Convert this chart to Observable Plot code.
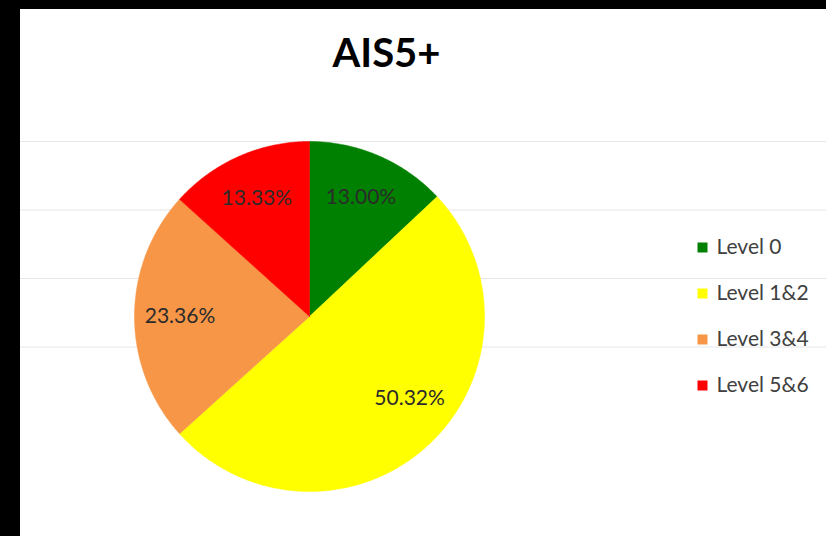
<!DOCTYPE html>
<html>
<head>
<meta charset="utf-8">
<script src="https://cdn.jsdelivr.net/npm/d3@7"></script>
<script src="https://cdn.jsdelivr.net/npm/@observablehq/plot@0.6"></script>
<style>
  html, body { margin: 0; padding: 0; background: #000; width: 826px; height: 536px; overflow: hidden; }
  #frame { position: absolute; left: 20px; top: 9px; width: 806px; height: 527px; background: #fff; }
  #title { position: relative; height: 80px; box-sizing: border-box; padding-top: 23px; }
  #title div { position: absolute; left: 0; width: 733px; text-align: center; font-family: Lato, sans-serif; font-weight: 700; font-size: 40px; line-height: 40px; color: #000; }
  #chart svg { display: block; }
</style>
</head>
<body>
<div id="frame">
  <div id="title"><div>AIS5+</div></div>
  <div id="chart"></div>
</div>
<script>
// ---- data ----
const levels = ["Level 0", "Level 1&2", "Level 3&4", "Level 5&6"];
const shares = [13.00, 50.32, 23.36, 13.33];
const labels = ["13.00%", "50.32%", "23.36%", "13.33%"];
const colors = ["#008000", "#FFFF00", "#F79646", "#FF0000"];

// ---- layout (pixels inside the svg) ----
const W = 806, H = 447;
const cx = 289, cy = 227, R = 175;
const gridTop = 52, gridStep = 68.5, gridCount = 4;
const legendX = 682, legendTextX = 696, legendTop = 158, legendStep = 46;

const total = d3.sum(shares);
let acc = 0;
const slices = levels.map((level, i) => {
  const a0 = acc / total * 2 * Math.PI;
  acc += shares[i];
  const a1 = acc / total * 2 * Math.PI;
  const n = Math.max(2, Math.ceil((a1 - a0) / (Math.PI / 360)));
  const pts = [{x: cx, y: cy}];
  for (let k = 0; k <= n; k++) {
    const a = a0 + (a1 - a0) * k / n;
    pts.push({x: cx + R * Math.sin(a), y: cy - R * Math.cos(a)});
  }
  pts.push({x: cx, y: cy});
  return {level, color: colors[i], label: labels[i], a0, a1, pts};
});

// label placement (Excel "best fit" nudges the large slice's label)
const angleNudge = {"Level 1&2": -8 * Math.PI / 180};
const labelRows = slices.map(s => {
  const a = (s.a0 + s.a1) / 2 + (angleNudge[s.level] || 0);
  const rr = R * 0.74;
  return {x: cx + rr * Math.sin(a), y: cy - rr * Math.cos(a), text: s.label};
});

const gridRows = d3.range(gridCount).map(i => ({y: gridTop + i * gridStep}));
const legendRows = levels.map((l, i) => ({x: legendX, tx: legendTextX, y: legendTop + i * legendStep, level: l, color: colors[i]}));

const marks = [
  Plot.ruleY(gridRows, {y: "y", x1: 0, x2: W, stroke: "#e6e6e6", strokeWidth: 1}),
  ...slices.map(s => Plot.line(s.pts, {x: "x", y: "y", fill: s.color, stroke: s.color, strokeWidth: 0.5, curve: "linear"})),
  Plot.text(labelRows, {x: "x", y: "y", text: "text", fontSize: 21, fontFamily: "Lato, sans-serif", fill: "#2b2b2b", textAnchor: "middle"}),
  Plot.dot(legendRows, {x: "x", y: "y", symbol: "square", r: 5.64, fill: "color", stroke: null}),
  Plot.text(legendRows, {x: "tx", y: "y", text: "level", fontSize: 21, fontFamily: "Lato, sans-serif", fill: "#404040", textAnchor: "start"})
];

const chart = Plot.plot({
  width: W,
  height: H,
  margin: 0,
  style: {background: "white", overflow: "visible"},
  x: {type: "identity", axis: null},
  y: {type: "identity", axis: null},
  color: {type: "identity"},
  marks
});
document.getElementById("chart").appendChild(chart);
</script>
</body>
</html>
